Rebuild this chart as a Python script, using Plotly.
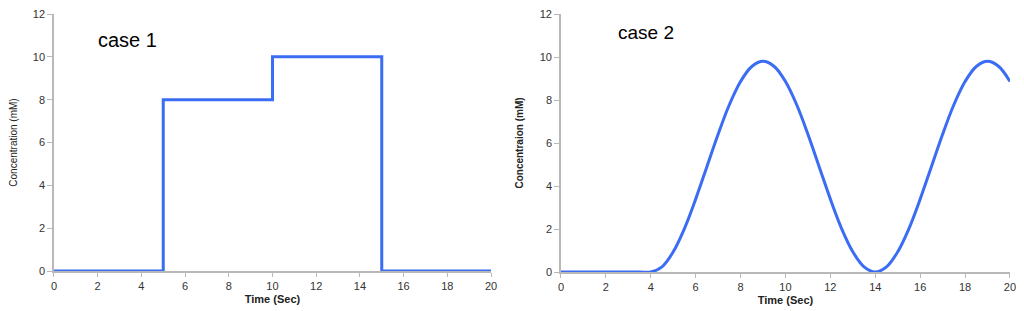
import plotly.graph_objects as go

# Case 1: step function
case1_time = [0, 5, 5, 10, 10, 15, 15, 20]
case1_conc = [0, 0, 8, 8, 10, 10, 0, 0]

# Case 2: smooth wave
case2_time = [0, 0.5, 1, 1.5, 2, 2.5, 3, 3.5, 4, 4.5, 5, 5.5, 6, 6.5, 7, 7.5, 8, 8.5, 9, 9.5,
              10, 10.5, 11, 11.5, 12, 12.5, 13, 13.5, 14, 14.5, 15, 15.5, 16, 16.5, 17, 17.5,
              18, 18.5, 19, 19.5, 20]
case2_conc = [0, 0, 0, 0, 0, 0, 0, 0, 0, 0.24, 0.94, 2.02, 3.39, 4.9, 6.41, 7.78, 8.86, 9.56, 9.8, 9.56,
              8.86, 7.78, 6.41, 4.9, 3.39, 2.02, 0.94, 0.24, 0, 0.24, 0.94, 2.02, 3.39, 4.9, 6.41, 7.78,
              8.86, 9.56, 9.8, 9.56, 8.86]

x_ticks = [0, 2, 4, 6, 8, 10, 12, 14, 16, 18, 20]
y_ticks = [0, 2, 4, 6, 8, 10, 12]

LINE = "#3a6cf4"
AXIS = "#b8b8b8"
FONT = "Liberation Sans, Arial, sans-serif"

fig = go.Figure()
fig.add_trace(go.Scatter(x=case1_time, y=case1_conc, mode="lines",
                         line=dict(color=LINE, width=3), xaxis="x", yaxis="y"))
fig.add_trace(go.Scatter(x=case2_time, y=case2_conc, mode="lines",
                         line=dict(color=LINE, width=3, shape="spline", smoothing=1.0),
                         xaxis="x2", yaxis="y2"))

def xax(domain, anchor):
    return dict(domain=domain, anchor=anchor, range=[0, 20], tickvals=x_ticks, automargin=False,
                ticklabeloverflow="allow",
                showgrid=False, zeroline=False, showline=True, linecolor=AXIS, linewidth=1.5,
                ticks="outside", ticklen=4, tickcolor=AXIS,
                tickfont=dict(size=11, color="#333", family=FONT),
                title=dict(text="<b>Time (Sec)</b>", font=dict(size=11, color="#222", family=FONT), standoff=4))

def yax(domain, anchor, title):
    return dict(domain=domain, anchor=anchor, range=[0, 12], tickvals=y_ticks, automargin=False,
                ticklabeloverflow="allow",
                showgrid=False, zeroline=False, showline=True, linecolor=AXIS, linewidth=1.5,
                ticks="outside", ticklen=5, tickcolor=AXIS,
                tickfont=dict(size=11, color="#333", family=FONT),
                title=dict(text=title, font=dict(size=10, color="#222", family=FONT), standoff=14))

fig.update_layout(
    width=1024, height=311,
    margin=dict(l=0, r=0, t=0, b=0),
    paper_bgcolor="white", plot_bgcolor="white",
    showlegend=False,
    xaxis=xax([0.0449, 0.4717], "y"),
    yaxis=yax([0.1543, 0.9807], "x", "Concentration (mM)"),
    xaxis2=xax([0.5400, 0.9785], "y2"),
    yaxis2=yax([0.1511, 0.9807], "x2", "<b>Concentraion (mM)</b>"),
    annotations=[
        dict(text="case 1", x=1.92, y=10.8, xref="x", yref="y", showarrow=False,
             xanchor="left", font=dict(size=20, color="black", family=FONT)),
        dict(text="case 2", x=2.45, y=11.15, xref="x2", yref="y2", showarrow=False,
             xanchor="left", font=dict(size=19, color="black", family=FONT)),
    ],
)

fig.write_html("out.html")
